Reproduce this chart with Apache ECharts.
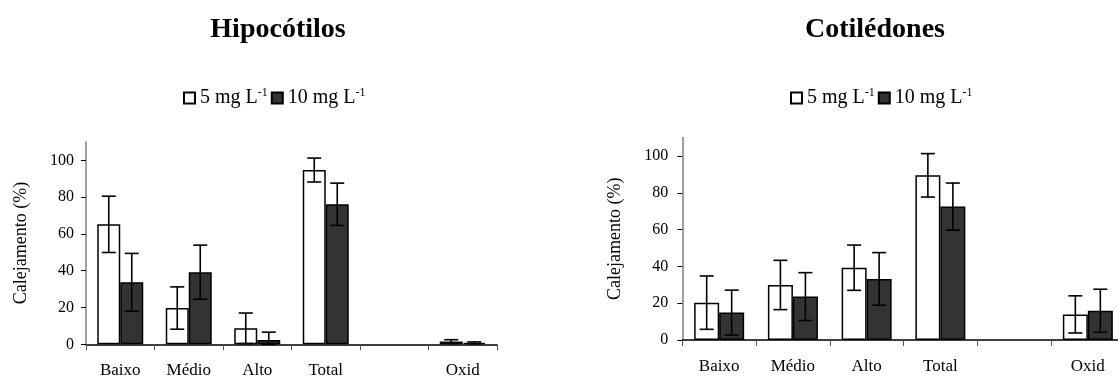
<!DOCTYPE html>
<html>
<head>
<meta charset="utf-8">
<script src="https://cdn.jsdelivr.net/npm/echarts@6/dist/echarts.min.js"></script>
<style>
html,body{margin:0;padding:0;background:#fff;}
#chart{width:1118px;height:380px;}
</style>
</head>
<body>
<div id="chart"></div>
<script>
// ---- data ----
const categories = ['Baixo', 'Médio', 'Alto', 'Total', '', 'Oxid'];
const seriesNames = ['5 mg L-1', '10 mg L-1'];
const hipo5 = [65.2, 19.7, 8.7, 94.7, null, 1.5];
const hipo5Err = [15.3, 11.5, 8.3, 6.5, null, 1.0];
const hipo10 = [33.7, 39.2, 2.4, 76.1, null, 0.8];
const hipo10Err = [15.7, 14.7, 4.2, 11.5, null, 0.5];
const coti5 = [20.3, 29.9, 39.3, 89.5, null, 13.9];
const coti5Err = [14.5, 13.4, 12.3, 11.8, null, 10.1];
const coti10 = [14.9, 23.6, 33.2, 72.5, null, 15.9];
const coti10Err = [12.2, 13.0, 14.3, 12.8, null, 11.7];
const yTicks = [0, 20, 40, 60, 80, 100];
const titles = ['Hipocótilos', 'Cotilédones'];

// ---- styling ----
const FONT = 'Liberation Serif, Times New Roman, serif';
const BAR_W = [23, 25];
const fills = ['#ffffff', '#333333'];

const chart = echarts.init(document.getElementById('chart'));

function errData(vals, errs) {
  const out = [];
  vals.forEach((v, i) => {
    if (v == null) return;
    out.push([i, Math.max(0, v - errs[i]), v + errs[i]]);
  });
  return out;
}

function errSeries(gridIdx, vals, errs, sign) {
  const bw = BAR_W[gridIdx];
  return {
    type: 'custom',
    xAxisIndex: gridIdx,
    yAxisIndex: gridIdx,
    z: 10,
    silent: true,
    data: errData(vals, errs),
    renderItem: function (params, api) {
      const hi = api.coord([api.value(0), api.value(2)]);
      const lo = api.coord([api.value(0), api.value(1)]);
      const x = hi[0] + sign * bw / 2;
      const cap = 7;
      const st = { stroke: '#000', lineWidth: 1.6 };
      return {
        type: 'group',
        children: [
          { type: 'line', shape: { x1: x, y1: hi[1], x2: x, y2: lo[1] }, style: st },
          { type: 'line', shape: { x1: x - cap, y1: hi[1], x2: x + cap, y2: hi[1] }, style: st },
          { type: 'line', shape: { x1: x - cap, y1: lo[1], x2: x + cap, y2: lo[1] }, style: st }
        ]
      };
    }
  };
}

function barSeries(gridIdx, name, vals, k) {
  return {
    type: 'bar',
    name: name,
    xAxisIndex: gridIdx,
    yAxisIndex: gridIdx,
    barWidth: BAR_W[gridIdx],
    barGap: '0%',
    data: vals.map(v => (v == null ? '-' : v)),
    itemStyle: { color: fills[k], borderColor: '#000', borderWidth: 1.5 }
  };
}

const grids = [
  { left: 86, top: 141.9, width: 411, height: 202.4, outerBoundsMode: 'none' },
  { left: 682.3, top: 137.6, width: 442.4, height: 202.4, outerBoundsMode: 'none' }
];

const xAxes = grids.map((g, i) => ({
  type: 'category',
  gridIndex: i,
  data: categories,
  axisLine: { show: true, lineStyle: { color: '#000', width: 1.5 } },
  axisTick: { show: true, length: 6, lineStyle: { color: '#555', width: 1 } },
  axisLabel: { color: '#000', fontFamily: FONT, fontSize: 17, margin: 18 },
  splitLine: { show: false }
}));

const yAxes = grids.map((g, i) => ({
  type: 'value',
  gridIndex: i,
  min: 0,
  max: 110,
  interval: 20,
  name: 'Calejamento (%)',
  nameLocation: 'middle',
  nameGap: [56, 58][i],
  nameTextStyle: { color: '#000', fontFamily: FONT, fontSize: 18 },
  axisLine: { show: true, lineStyle: { color: '#808080', width: 1.5 } },
  axisTick: { show: true, length: 5, customValues: yTicks, lineStyle: { color: '#000', width: 1 } },
  axisLabel: { color: '#000', fontFamily: FONT, fontSize: 16, margin: [12, 14][i], customValues: yTicks },
  splitLine: { show: false }
}));

const legendRich = {
  t: { fontFamily: FONT, fontSize: 20, color: '#000' },
  s: { fontFamily: FONT, fontSize: 12, color: '#000', padding: [0, 0, 10, 0] }
};
const legendFmt = name => '{t|' + name.replace('-1', '') + '}{s|-1}';

const legends = [178, 785].map((lx) => ({
  left: lx,
  top: 82,
  itemWidth: 11,
  itemHeight: 11,
  itemGap: 3,
  icon: 'rect',
  data: seriesNames,
  formatter: legendFmt,
  textStyle: { rich: legendRich, fontFamily: FONT, fontSize: 20, color: '#000' }
}));

const option = {
  backgroundColor: '#fff',
  animation: false,
  title: [
    { text: titles[0], left: 273, top: 11, textAlign: 'center',
      textStyle: { fontFamily: FONT, fontWeight: 'bold', fontSize: 28, color: '#000' } },
    { text: titles[1], left: 870, top: 11, textAlign: 'center',
      textStyle: { fontFamily: FONT, fontWeight: 'bold', fontSize: 28, color: '#000' } }
  ],
  legend: legends,
  grid: grids,
  xAxis: xAxes,
  yAxis: yAxes,
  series: [
    barSeries(0, seriesNames[0], hipo5, 0),
    barSeries(0, seriesNames[1], hipo10, 1),
    barSeries(1, seriesNames[0], coti5, 0),
    barSeries(1, seriesNames[1], coti10, 1),
    errSeries(0, hipo5, hipo5Err, -1),
    errSeries(0, hipo10, hipo10Err, 1),
    errSeries(1, coti5, coti5Err, -1),
    errSeries(1, coti10, coti10Err, 1)
  ]
};
chart.setOption(option);
</script>
</body>
</html>
